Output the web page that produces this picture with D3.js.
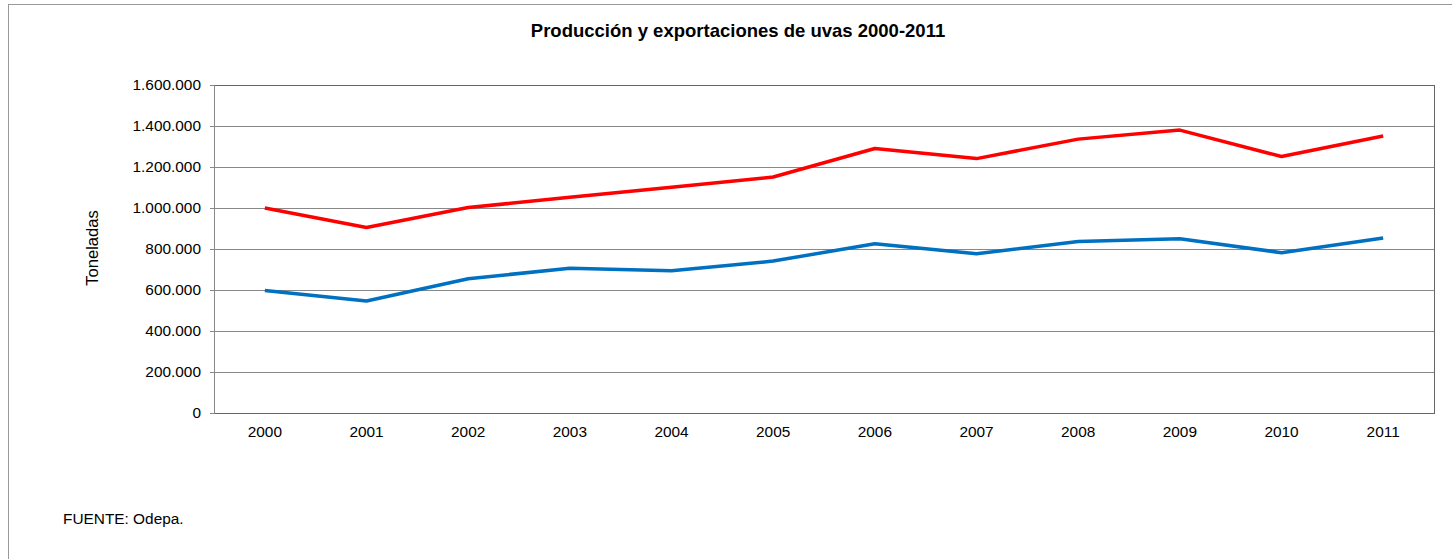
<!DOCTYPE html>
<html>
<head>
<meta charset="utf-8">
<script src="https://cdn.jsdelivr.net/npm/d3@7"></script>
<style>
  body { margin: 0; background: #fff; }
  svg { font-family: "Liberation Sans", Arial, sans-serif; }
</style>
</head>
<body>
<div id="chart"></div>
<script>
// years along the x axis
const years = ["2000", "2001", "2002", "2003", "2004", "2005", "2006", "2007", "2008", "2009", "2010", "2011"];
// production (red) and exports (blue), tonnes
const produccion = [1000000, 905000, 1002000, 1052000, 1101000, 1151000, 1290000, 1241000, 1336000, 1380000, 1251000, 1351000];
const exportaciones = [597000, 546000, 655000, 706000, 694000, 741000, 826000, 777000, 837000, 850000, 782000, 854000];
const yTicks = [0, 200000, 400000, 600000, 800000, 1000000, 1200000, 1400000, 1600000];

const svgWidth = 1452;
const svgHeight = 559;
const margin = { top: 85, right: 18, bottom: 146, left: 214 };
const width = svgWidth - margin.left - margin.right;
const height = svgHeight - margin.top - margin.bottom;

const svg = d3.select("#chart")
    .append("svg")
    .attr("width", svgWidth)
    .attr("height", svgHeight);

// outer chart border (right/bottom edges fall outside the view)
svg.append("rect")
    .attr("x", 8.5)
    .attr("y", 4.5)
    .attr("width", svgWidth + 10)
    .attr("height", svgHeight + 10)
    .attr("fill", "none")
    .attr("stroke", "#999")
    .attr("stroke-width", 1);

svg.append("text")
    .attr("x", 738)
    .attr("y", 37)
    .style("text-anchor", "middle")
    .style("font-weight", "bold")
    .style("font-size", "18.5px")
    .text("Producción y exportaciones de uvas 2000-2011");

const chartGroup = svg.append("g")
    .attr("transform", `translate(${margin.left}, ${margin.top})`);

const xScale = d3.scaleBand()
    .domain(years)
    .range([0, width]);

const yScale = d3.scaleLinear()
    .domain([0, 1600000])
    .range([height, 0]);

const fmt = d => d === 0 ? "0" : d3.format(",")(d).replace(/,/g, ".");

// gridlines
chartGroup.append("g")
    .selectAll("line")
    .data(yTicks)
    .enter().append("line")
    .attr("x1", 0)
    .attr("x2", width)
    .attr("y1", d => Math.round(yScale(d)) + 0.5)
    .attr("y2", d => Math.round(yScale(d)) + 0.5)
    .attr("stroke", "#888")
    .attr("stroke-width", 1);

// plot frame
chartGroup.append("rect")
    .attr("x", 0.5)
    .attr("y", 0.5)
    .attr("width", width)
    .attr("height", height)
    .attr("fill", "none")
    .attr("stroke", "#666")
    .attr("stroke-width", 1);

const yAxis = d3.axisLeft(yScale)
    .tickValues(yTicks)
    .tickFormat(fmt)
    .tickSize(4)
    .tickPadding(9);

const yG = chartGroup.append("g").call(yAxis);
yG.select(".domain").attr("stroke", "#888");
yG.selectAll(".tick line").attr("stroke", "#888");
yG.selectAll("text").style("font-size", "15.4px").attr("fill", "#000")
    .attr("font-family", "Liberation Sans, Arial, sans-serif");

const xAxis = d3.axisBottom(xScale).tickSize(0).tickPadding(13);
const xG = chartGroup.append("g")
    .attr("transform", `translate(0, ${height})`)
    .call(xAxis);
xG.select(".domain").remove();
xG.selectAll("text").style("font-size", "15.4px").attr("fill", "#000")
    .attr("font-family", "Liberation Sans, Arial, sans-serif");

// y axis title
svg.append("text")
    .attr("transform", `translate(98, ${margin.top + height / 2 - 1}) rotate(-90)`)
    .style("text-anchor", "middle")
    .style("font-size", "16.6px")
    .text("Toneladas");

const line = d3.line()
    .x((d, i) => xScale(years[i]) + xScale.bandwidth() / 2)
    .y(d => yScale(d));

chartGroup.append("path")
    .datum(exportaciones)
    .attr("fill", "none")
    .attr("stroke", "#0070C0")
    .attr("stroke-width", 3.5)
    .attr("stroke-linejoin", "round")
    .attr("d", line);

chartGroup.append("path")
    .datum(produccion)
    .attr("fill", "none")
    .attr("stroke", "#FF0000")
    .attr("stroke-width", 3.5)
    .attr("stroke-linejoin", "round")
    .attr("d", line);

svg.append("text")
    .attr("x", 63)
    .attr("y", 524)
    .style("font-size", "15.4px")
    .text("FUENTE: Odepa.");
</script>
</body>
</html>
